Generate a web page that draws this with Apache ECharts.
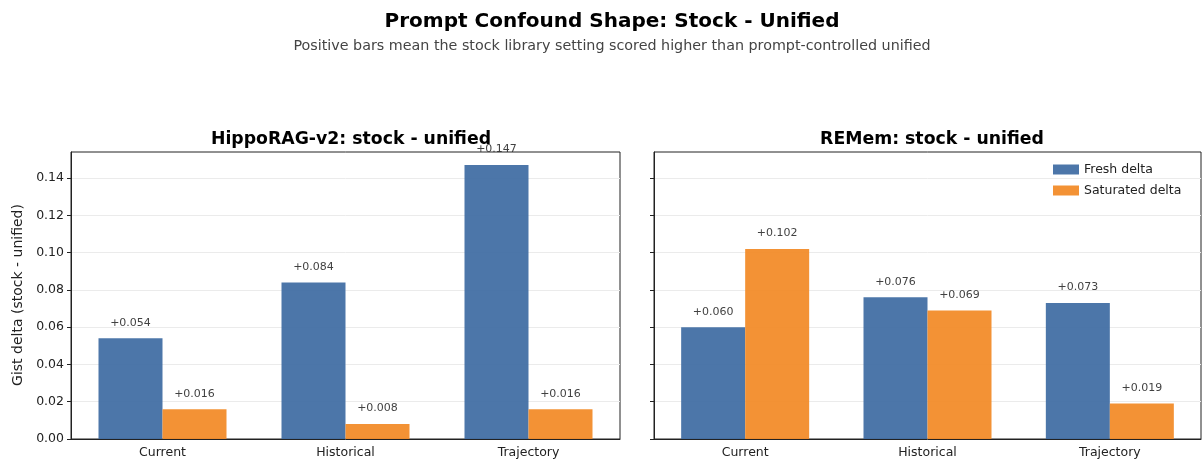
<!DOCTYPE html>
<html>
<head>
<meta charset="utf-8">
<script src="https://cdn.jsdelivr.net/npm/echarts@6/dist/echarts.min.js"></script>
<style>
  html, body { margin: 0; padding: 0; background: #fff; }
  #chart { width: 1203px; height: 462px; }
</style>
</head>
<body>
<div id="chart"></div>
<script>
const categories = ["Current", "Historical", "Trajectory"];
const hippoFresh = [0.054, 0.084, 0.147];
const hippoSaturated = [0.016, 0.008, 0.016];
const rememFresh = [0.060, 0.076, 0.073];
const rememSaturated = [0.102, 0.069, 0.019];
const yTicks = [0, 0.02, 0.04, 0.06, 0.08, 0.1, 0.12, 0.14];

const FONT = "DejaVu Sans";
const BLUE = "#3e6ca3";
const ORANGE = "#f28a26";

const chart = echarts.init(document.getElementById("chart"));

function xAxis(gridIndex) {
  return {
    type: "category",
    gridIndex: gridIndex,
    data: categories,
    axisLine: { lineStyle: { color: "#222", width: 1 } },
    axisTick: { alignWithLabel: true, length: 4, lineStyle: { color: "#222" } },
    axisLabel: { color: "#222", fontSize: 12.5, fontFamily: FONT, margin: 7 },
  };
}

function yAxis(gridIndex, showLabels) {
  return {
    type: "value",
    gridIndex: gridIndex,
    min: 0,
    max: 0.154,
    interval: 0.02,
    axisLine: { show: true, lineStyle: { color: "#222", width: 1 } },
    axisTick: {
      show: true,
      length: 4,
      customValues: yTicks,
      lineStyle: { color: "#222" },
    },
    axisLabel: {
      show: showLabels,
      customValues: yTicks,
      color: "#222",
      fontSize: 12.5,
      fontFamily: FONT,
      margin: 7,
      formatter: (v) => v.toFixed(2),
    },
    splitLine: { show: true, lineStyle: { color: "#ebebeb", width: 1 } },
  };
}

function barSeries(name, data, color, idx) {
  return {
    name: name,
    type: "bar",
    xAxisIndex: idx,
    yAxisIndex: idx,
    data: data,
    barWidth: 64,
    barGap: "0%",
    itemStyle: { color: color, opacity: 0.93 },
    label: {
      show: true,
      position: "top",
      distance: 10,
      color: "#333",
      fontSize: 11,
      fontFamily: FONT,
      formatter: (p) => "+" + p.value.toFixed(3),
    },
  };
}

chart.setOption({
  backgroundColor: "#fff",
  animation: false,
  textStyle: { fontFamily: FONT },
  title: [
    {
      text: "Prompt Confound Shape: Stock - Unified",
      left: 607,
      top: 7,
      textAlign: "center",
      textStyle: { fontSize: 20, fontWeight: "bold", color: "#000", fontFamily: FONT },
    },
    {
      text: "Positive bars mean the stock library setting scored higher than prompt-controlled unified",
      left: 607,
      top: 34,
      textAlign: "center",
      textStyle: { fontSize: 14.3, fontWeight: "normal", color: "#444", fontFamily: FONT },
    },
    {
      text: "HippoRAG-v2: stock - unified",
      left: 346,
      top: 126,
      textAlign: "center",
      textStyle: { fontSize: 17.3, fontWeight: "bold", color: "#000", fontFamily: FONT },
    },
    {
      text: "REMem: stock - unified",
      left: 927,
      top: 126,
      textAlign: "center",
      textStyle: { fontSize: 17.3, fontWeight: "bold", color: "#000", fontFamily: FONT },
    },
  ],
  legend: {
    orient: "vertical",
    left: 1048,
    top: 158,
    icon: "rect",
    itemWidth: 26,
    itemHeight: 10,
    itemGap: 8,
    data: ["Fresh delta", "Saturated delta"],
    textStyle: { fontSize: 12.5, color: "#222", fontFamily: FONT },
  },
  grid: [
    { left: 71, top: 152, width: 549, height: 287, show: true, borderColor: "#222", borderWidth: 1, backgroundColor: "transparent" },
    { left: 654, top: 152, width: 547, height: 287, show: true, borderColor: "#222", borderWidth: 1, backgroundColor: "transparent" },
  ],
  graphic: [
    {
      type: "text",
      x: 18,
      y: 295,
      rotation: Math.PI / 2,
      style: {
        text: "Gist delta (stock - unified)",
        fontSize: 14,
        fontFamily: FONT,
        fill: "#222",
        textAlign: "center",
        textVerticalAlign: "middle",
      },
    },
  ],
  xAxis: [xAxis(0), xAxis(1)],
  yAxis: [yAxis(0, true), yAxis(1, false)],
  series: [
    barSeries("Fresh delta", hippoFresh, BLUE, 0),
    barSeries("Saturated delta", hippoSaturated, ORANGE, 0),
    barSeries("Fresh delta", rememFresh, BLUE, 1),
    barSeries("Saturated delta", rememSaturated, ORANGE, 1),
  ],
});
</script>
</body>
</html>
